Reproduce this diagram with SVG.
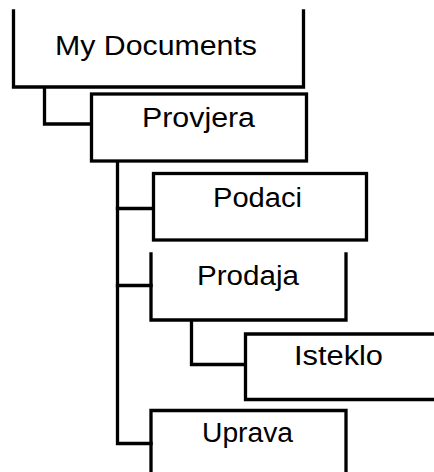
<svg xmlns="http://www.w3.org/2000/svg" width="434" height="472" viewBox="0 0 434 472">
<style>
.box{fill:none;stroke:#000;stroke-width:3.3;stroke-linecap:square;stroke-linejoin:miter}
.conn{fill:none;stroke:#000;stroke-width:3.3;stroke-linecap:square;stroke-linejoin:miter}
.lbl{font-family:"Liberation Sans","DejaVu Sans",sans-serif;font-size:27px;fill:#000}
</style>
<rect width="434" height="472" fill="#fff"/>
<g id="connectors">
<path class="conn" d="M44.5,88 V124 H91"/>
<path class="conn" d="M117.5,162 V443.5 H151"/>
<path class="conn" d="M117.5,208.5 H153"/>
<path class="conn" d="M117.5,285.5 H151"/>
<path class="conn" d="M191.5,321 V364.5 H245"/>
</g>
<g id="my-documents">
<path class="box" d="M13.5,11 V87 H303.5 V11"/>
<text class="lbl" x="55" y="55" textLength="202" lengthAdjust="spacingAndGlyphs">My Documents</text>
</g>
<g id="provjera">
<rect class="box" x="91.5" y="94" width="215" height="67"/>
<text class="lbl" x="142" y="127" textLength="113" lengthAdjust="spacingAndGlyphs">Provjera</text>
</g>
<g id="podaci">
<rect class="box" x="153.5" y="173.5" width="213" height="66.5"/>
<text class="lbl" x="213" y="207" textLength="89" lengthAdjust="spacingAndGlyphs">Podaci</text>
</g>
<g id="prodaja">
<path class="box" d="M151,254 V320 H346 V254"/>
<text class="lbl" x="197" y="285" textLength="102" lengthAdjust="spacingAndGlyphs">Prodaja</text>
</g>
<g id="isteklo">
<path class="box" d="M436,334 H245.5 V399.5 H436"/>
<text class="lbl" x="294" y="365" textLength="89" lengthAdjust="spacingAndGlyphs">Isteklo</text>
</g>
<g id="uprava">
<path class="box" d="M151,474 V410.5 H346 V474"/>
<text class="lbl" x="202" y="442" textLength="91" lengthAdjust="spacingAndGlyphs">Uprava</text>
</g>
</svg>
